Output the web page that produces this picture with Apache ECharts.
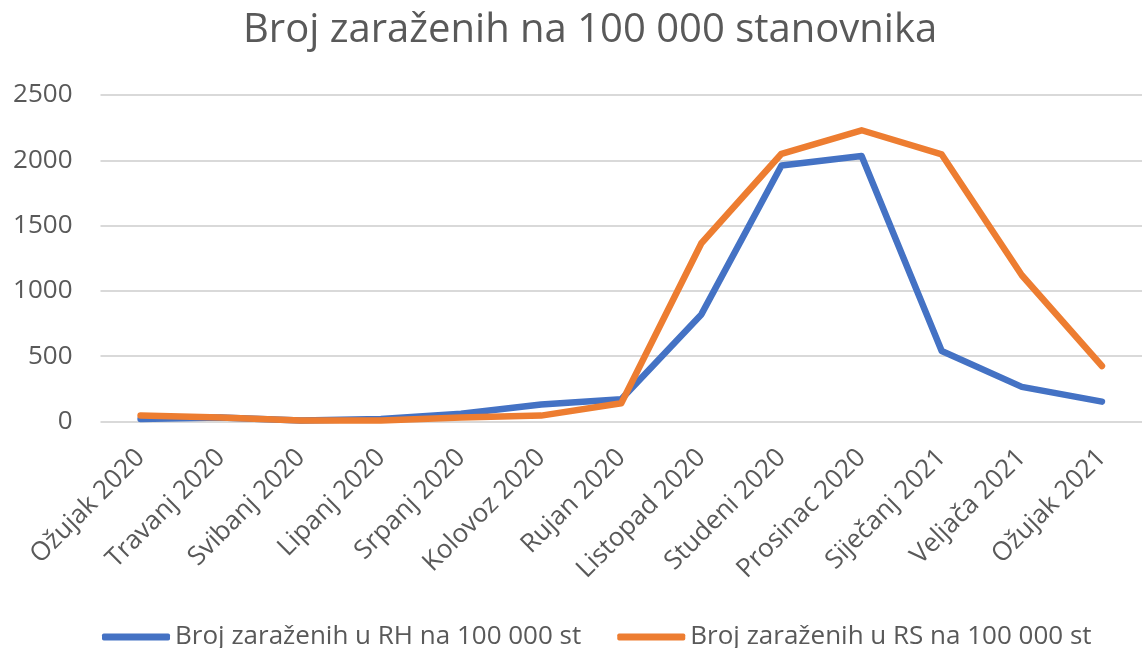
<!DOCTYPE html>
<html>
<head>
<meta charset="utf-8">
<script src="https://cdn.jsdelivr.net/npm/echarts@6/dist/echarts.min.js"></script>
<style>
  html, body { margin: 0; padding: 0; background: #ffffff; }
  #chart { width: 1142px; height: 648px; }
</style>
</head>
<body>
<div id="chart"></div>
<script>
  // mjeseci na x osi
  var months = ['Ožujak 2020', 'Travanj 2020', 'Svibanj 2020', 'Lipanj 2020', 'Srpanj 2020', 'Kolovoz 2020',
    'Rujan 2020', 'Listopad 2020', 'Studeni 2020', 'Prosinac 2020', 'Siječanj 2021', 'Veljača 2021', 'Ožujak 2021']
  // broj zaraženih na 100 000 stanovnika
  var rhValues = [20, 30, 8, 20, 60, 130, 170, 820, 1960, 2033, 540, 265, 152]
  var rsValues = [45, 30, 8, 8, 30, 45, 140, 1365, 2050, 2230, 2045, 1120, 425]
  var yTicks = [0, 500, 1000, 1500, 2000, 2500]

  var font = 'Open Sans'
  var grey = '#595959'

  var chart = echarts.init(document.getElementById('chart'))
  chart.setOption({
    animation: false,
    title: {
      text: 'Broj zaraženih na 100 000 stanovnika',
      left: 238,
      top: 6,
      textStyle: { fontFamily: font, fontSize: 40, fontWeight: 'normal', color: grey }
    },
    legend: {
      left: 97,
      top: 619,
      itemWidth: 68,
      itemHeight: 7,
      itemGap: 36,
      icon: 'roundRect',
      textStyle: { fontFamily: font, fontSize: 26, color: grey }
    },
    grid: {
      left: 100.5,
      top: 95,
      width: 1050,
      bottom: 226.5
    },
    xAxis: {
      type: 'category',
      data: months,
      boundaryGap: true,
      axisLine: { show: false },
      axisTick: { show: false },
      axisLabel: {
        rotate: 45,
        interval: 0,
        margin: 32,
        fontFamily: font,
        fontSize: 26,
        color: grey
      }
    },
    yAxis: {
      type: 'value',
      min: yTicks[0],
      max: yTicks[yTicks.length - 1],
      interval: yTicks[1] - yTicks[0],
      axisLine: { show: false },
      axisTick: { show: false },
      axisLabel: {
        margin: 28,
        fontFamily: font,
        fontSize: 26,
        color: grey,
        formatter: function (v) { return String(v) }
      },
      splitLine: { lineStyle: { color: '#d9d9d9', width: 2 } }
    },
    series: [
      {
        name: 'Broj zaraženih u RH na 100 000 st',
        type: 'line',
        data: rhValues,
        showSymbol: false,
        color: '#4472C4',
        lineStyle: { width: 6.5, cap: 'round', join: 'round' }
      },
      {
        name: 'Broj zaraženih u RS na 100 000 st',
        type: 'line',
        data: rsValues,
        showSymbol: false,
        color: '#ED7D31',
        lineStyle: { width: 6.5, cap: 'round', join: 'round' }
      }
    ]
  })
</script>
</body>
</html>
